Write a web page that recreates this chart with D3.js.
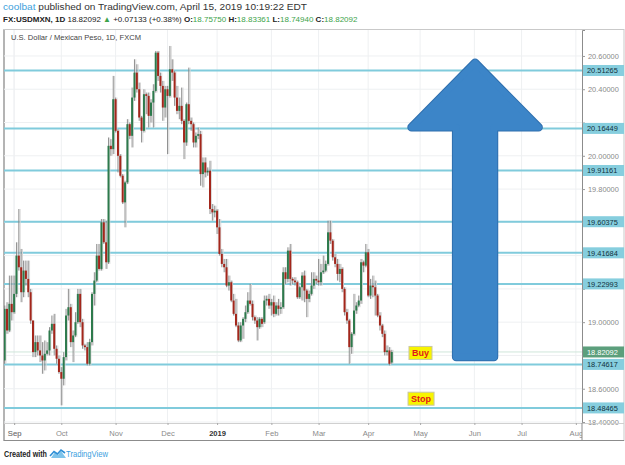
<!DOCTYPE html>
<html>
<head>
<meta charset="utf-8">
<script src="https://cdn.jsdelivr.net/npm/d3@7"></script>
<style>
body { margin: 0; background: #fff; }
svg { display: block; }
</style>
</head>
<body>
<div id="chart"></div>
<script>
// USDMXN daily candles, Aug 28 2018 .. Apr 15 2019 (one per weekday)
var opens = [18.77,19.08,18.95,19.11,19.06,19.17,19.40,19.33,19.18,19.31,19.26,19.18,19.01,18.82,18.88,18.83,18.80,18.77,18.81,18.83,
  18.95,18.99,18.84,18.78,18.70,18.66,18.79,19.04,19.09,18.88,18.92,19.00,19.17,19.00,18.86,18.85,18.75,18.88,19.17,19.25,
  19.40,19.32,19.60,19.48,19.36,20.06,20.04,20.34,20.15,20.00,19.88,19.72,19.84,20.19,20.12,20.35,20.50,20.40,20.23,20.15,
  20.37,20.36,20.24,20.32,20.39,20.62,20.48,20.42,20.29,20.40,20.36,20.52,20.50,20.35,20.27,20.30,20.21,20.08,20.31,20.21,
  20.19,20.08,20.12,20.13,19.89,19.96,19.90,19.91,19.68,19.66,19.67,19.57,19.41,19.35,19.33,19.22,19.24,19.13,19.05,18.98,
  18.89,18.98,19.02,19.06,19.13,19.11,19.03,19.01,18.97,19.02,19.00,19.13,19.14,19.10,19.12,19.05,19.10,19.08,19.09,19.30,
  19.26,19.43,19.26,19.25,19.24,19.15,19.21,19.28,19.19,19.14,19.17,19.22,19.26,19.25,19.24,19.30,19.31,19.35,19.54,19.49,
  19.39,19.35,19.29,19.32,19.20,19.06,19.01,18.85,18.93,19.07,19.10,19.13,19.36,19.34,19.42,19.16,19.22,19.21,19.16,19.04,
  18.98,18.93,18.82,18.83,18.7575];
var highs = [19.10,19.12,19.28,19.28,19.28,19.48,19.68,19.44,19.37,19.37,19.37,19.20,19.01,18.92,18.92,18.92,18.88,18.89,18.88,18.97,
  19.04,19.05,18.86,18.80,18.73,18.82,19.08,19.20,19.11,18.95,19.06,19.20,19.20,19.02,18.87,18.88,18.90,19.18,19.30,19.47,
  19.47,19.62,19.62,19.61,20.11,20.10,20.48,20.35,20.16,20.01,19.89,19.85,20.22,20.20,20.41,20.58,20.55,20.44,20.24,20.40,
  20.38,20.38,20.34,20.43,20.63,20.63,20.50,20.45,20.42,20.42,20.66,20.58,20.51,20.42,20.35,20.41,20.22,20.32,20.53,20.23,
  20.20,20.14,20.17,20.15,19.99,19.99,19.93,19.97,19.71,19.70,19.68,19.62,19.44,19.38,19.38,19.28,19.25,19.17,19.14,19.00,
  19.00,19.03,19.10,19.18,19.23,19.13,19.04,19.03,19.03,19.03,19.16,19.16,19.17,19.14,19.16,19.12,19.14,19.12,19.33,19.33,
  19.45,19.47,19.27,19.27,19.25,19.22,19.30,19.31,19.20,19.19,19.30,19.30,19.28,19.38,19.35,19.40,19.37,19.61,19.61,19.50,
  19.41,19.38,19.35,19.33,19.21,19.08,19.02,18.94,19.17,19.12,19.16,19.38,19.37,19.47,19.44,19.26,19.28,19.25,19.17,19.06,
  18.99,18.95,18.86,18.85,18.83361];
var lows = [18.75,18.93,18.94,19.01,19.05,19.15,19.31,19.12,19.15,19.22,19.15,18.99,18.79,18.79,18.80,18.76,18.69,18.71,18.80,18.80,
  18.93,18.80,18.75,18.69,18.50,18.62,18.77,19.01,18.85,18.76,18.91,18.99,18.97,18.84,18.83,18.74,18.74,18.86,19.10,19.24,
  19.31,19.31,19.47,19.32,19.35,20.00,20.01,20.14,19.90,19.87,19.71,19.57,19.83,20.10,20.05,20.33,20.38,20.21,20.08,20.14,
  20.25,20.17,20.20,20.17,20.38,20.45,20.38,20.21,20.23,20.01,20.35,20.45,20.30,20.25,20.22,20.19,19.98,20.06,20.19,20.15,
  20.05,20.05,20.10,19.82,19.81,19.87,19.88,19.65,19.61,19.63,19.53,19.40,19.33,19.30,19.21,19.19,19.12,19.04,18.97,18.88,
  18.88,18.90,19.00,19.05,19.10,19.01,18.99,18.89,18.96,18.97,18.99,19.10,19.08,19.04,19.03,19.04,19.04,19.05,19.08,19.23,
  19.24,19.22,19.23,19.22,19.14,19.14,19.13,19.12,19.03,19.12,19.16,19.20,19.23,19.22,19.22,19.29,19.30,19.34,19.47,19.37,
  19.33,19.25,19.24,19.18,19.04,18.99,18.75,18.81,18.92,19.05,19.09,19.11,19.30,19.33,19.15,19.14,19.15,19.04,19.03,18.95,
  18.91,18.80,18.80,18.74,18.7494];
var closes = [19.08,18.95,19.11,19.06,19.17,19.40,19.33,19.18,19.31,19.26,19.18,19.01,18.82,18.88,18.83,18.80,18.77,18.81,18.83,18.95,
  18.99,18.84,18.78,18.70,18.66,18.79,19.04,19.09,18.88,18.92,19.00,19.17,19.00,18.86,18.85,18.75,18.88,19.17,19.25,19.40,
  19.32,19.60,19.48,19.36,20.06,20.04,20.34,20.15,20.00,19.88,19.72,19.84,20.19,20.12,20.35,20.50,20.40,20.23,20.15,20.37,
  20.36,20.24,20.32,20.39,20.62,20.48,20.42,20.29,20.40,20.36,20.52,20.50,20.35,20.27,20.30,20.21,20.08,20.31,20.21,20.19,
  20.08,20.12,20.13,19.89,19.96,19.90,19.91,19.68,19.66,19.67,19.57,19.41,19.35,19.33,19.22,19.24,19.13,19.05,18.98,18.89,
  18.98,19.02,19.06,19.13,19.11,19.03,19.01,18.97,19.02,18.99,19.13,19.14,19.10,19.12,19.05,19.10,19.08,19.09,19.30,19.26,
  19.43,19.26,19.25,19.24,19.15,19.21,19.28,19.19,19.14,19.17,19.22,19.26,19.25,19.24,19.30,19.31,19.35,19.54,19.49,19.39,
  19.35,19.29,19.32,19.20,19.06,19.01,18.85,18.93,19.07,19.10,19.13,19.36,19.34,19.42,19.16,19.22,19.21,19.16,19.04,18.98,
  18.93,18.82,18.83,18.75,18.82092];

// horizontal support / resistance levels
var levels = [20.51265, 20.16449, 19.91161, 19.60375, 19.41684, 19.22993, 18.74617, 18.48465];
var lastPrice = 18.82092;
var priceTicks = [18.4, 18.6, 18.8, 19.0, 19.2, 19.4, 19.6, 19.8, 20.0, 20.2, 20.4, 20.6];

// annotations (bar number, price)
var arrow = {center: 199.3, tipPrice: 20.58, headPrice: 20.15, headHalf: 28.4, shaftHalf: 9.5, basePrice: 18.77};
var notes = [{text: "Buy", bar: 171.3, price: 18.815}, {text: "Stop", bar: 170.9, price: 18.54}];

var svgWidth = 625;
var svgHeight = 465;
var plot = {left: 4, right: 582, top: 30, bottom: 423};
var font = "'Liberation Sans', Arial, sans-serif";

var svg = d3.select("#chart")
    .append("svg")
    .attr("width", svgWidth)
    .attr("height", svgHeight)
    .style("font-family", font);

// weekday calendar starting at the first bar
var days = [];
for (var d = new Date(2018, 7, 28); days.length < 250; d.setDate(d.getDate() + 1)) {
    if (d.getDay() !== 0 && d.getDay() !== 6) days.push(new Date(d));
}
var monthStarts = [];
days.forEach(function(day, i) {
    if (i > 0 && day.getMonth() !== days[i - 1].getMonth()) monthStarts.push(i);
});
monthStarts.unshift(4); // Sep 3

var x = d3.scaleLinear().domain([-0.28, 244.6]).range([plot.left, plot.right]);
var y = d3.scaleLinear().domain([18.394, 20.756]).range([plot.bottom, plot.top]);

var defs = svg.append("defs");
defs.append("clipPath").attr("id", "plotClip")
    .append("rect")
    .attr("x", plot.left).attr("y", plot.top)
    .attr("width", plot.right - plot.left).attr("height", plot.bottom - plot.top);
defs.append("clipPath").attr("id", "axisClip")
    .append("rect").attr("x", 0).attr("y", 0).attr("width", plot.right).attr("height", 20);

// header
var h1 = svg.append("text").attr("x", 3).attr("y", 9.5).attr("font-size", 9.2).attr("fill", "#333")
    .attr("textLength", 304).attr("lengthAdjust", "spacingAndGlyphs");
h1.append("tspan").attr("fill", "#3d9fdc").text("coolbat");
h1.append("tspan").text(" published on TradingView.com, April 15, 2019 10:19:22 EDT");

var green = "#3da34a";
var h2 = svg.append("text").attr("x", 3).attr("y", 21.5).attr("font-size", 8).attr("fill", "#222");
h2.append("tspan").attr("font-weight", "bold").text("FX:USDMXN, 1D");
h2.append("tspan").text("  18.82092 ");
h2.append("tspan").attr("fill", green).text("\u25B2");
h2.append("tspan").text(" +0.07133 (+0.38%) ");
[["O:", "18.75750"], [" H:", "18.83361"], [" L:", "18.74940"], [" C:", "18.82092"]].forEach(function(p) {
    h2.append("tspan").attr("font-weight", "bold").text(p[0]);
    h2.append("tspan").attr("fill", green).text(p[1]);
});

// frame
svg.append("rect")
    .attr("x", 3.5).attr("y", 29.5)
    .attr("width", 620.5).attr("height", 411)
    .attr("fill", "none").attr("stroke", "#c9c9c9");
svg.append("line")
    .attr("x1", 4).attr("x2", 4).attr("y1", 30).attr("y2", 441)
    .attr("stroke", "#b4b4b4").attr("stroke-width", 2);

var chartGroup = svg.append("g").attr("clip-path", "url(#plotClip)");

// grid
chartGroup.selectAll(".vgrid").data(monthStarts).enter().append("line")
    .attr("x1", d => x(d)).attr("x2", d => x(d))
    .attr("y1", plot.top).attr("y2", plot.bottom)
    .attr("stroke", "#eef0f2");
chartGroup.selectAll(".hgrid").data(priceTicks).enter().append("line")
    .attr("x1", plot.left).attr("x2", plot.right)
    .attr("y1", d => y(d)).attr("y2", d => y(d))
    .attr("stroke", "#eef0f2");

svg.append("text")
    .attr("x", 11).attr("y", 39.5)
    .attr("font-size", 7.8).attr("fill", "#444")
    .attr("textLength", 130).attr("lengthAdjust", "spacingAndGlyphs")
    .text("U.S. Dollar / Mexican Peso, 1D, FXCM");

// last price line
chartGroup.append("line")
    .attr("x1", plot.left).attr("x2", plot.right)
    .attr("y1", y(lastPrice)).attr("y2", y(lastPrice))
    .attr("stroke", "#cfe6da");

// levels
chartGroup.selectAll(".level").data(levels).enter().append("line")
    .attr("x1", plot.left).attr("x2", plot.right)
    .attr("y1", d => y(d)).attr("y2", d => y(d))
    .attr("stroke", "#80cbdc").attr("stroke-width", 2);

// candles
var candles = closes.map(function(c, i) {
    return {i: i, o: opens[i], h: highs[i], l: lows[i], c: c};
});
var candleG = chartGroup.selectAll(".candle").data(candles).enter().append("g");
candleG.append("line")
    .attr("x1", d => x(d.i) + 1.3).attr("x2", d => x(d.i) + 1.3)
    .attr("y1", d => y(d.h)).attr("y2", d => y(d.l))
    .attr("stroke", "#d6d6d6").attr("stroke-width", 1);
candleG.append("line")
    .attr("x1", d => x(d.i)).attr("x2", d => x(d.i))
    .attr("y1", d => y(d.h)).attr("y2", d => y(d.l))
    .attr("stroke", "#858585").attr("stroke-width", 0.9);
candleG.append("rect")
    .attr("x", d => x(d.i) - 1)
    .attr("width", 2)
    .attr("y", d => y(Math.max(d.o, d.c)))
    .attr("height", d => Math.max(1, Math.abs(y(d.o) - y(d.c))))
    .attr("fill", d => d.c >= d.o ? "#2d7a4c" : "#a3261b");

// arrow annotation
var r = 3.5;
var aPts = [
    [x(arrow.center), y(arrow.tipPrice) + r],
    [x(arrow.center + arrow.headHalf) - r, y(arrow.headPrice) - r],
    [x(arrow.center + arrow.shaftHalf) - r, y(arrow.headPrice) - r],
    [x(arrow.center + arrow.shaftHalf) - r, y(arrow.basePrice) - r],
    [x(arrow.center - arrow.shaftHalf) + r, y(arrow.basePrice) - r],
    [x(arrow.center - arrow.shaftHalf) + r, y(arrow.headPrice) - r],
    [x(arrow.center - arrow.headHalf) + r, y(arrow.headPrice) - r]
];
var aPath = "M" + aPts.map(p => p.join(",")).join("L") + "Z";
chartGroup.append("path").attr("d", aPath)
    .attr("fill", "#2f6fae").attr("stroke", "#2f6fae")
    .attr("stroke-width", 2 * r + 1.5).attr("stroke-linejoin", "round");
chartGroup.append("path").attr("d", aPath)
    .attr("fill", "#3c85c8").attr("stroke", "#3c85c8")
    .attr("stroke-width", 2 * r - 0.5).attr("stroke-linejoin", "round");

// Buy / Stop notes
notes.forEach(function(n) {
    var g = chartGroup.append("g");
    var t = g.append("text")
        .attr("x", x(n.bar) + 3).attr("y", y(n.price) + 3.2)
        .attr("font-size", 9).attr("font-weight", "bold").attr("fill", "#e0141a")
        .text(n.text);
    var w = t.node().getComputedTextLength();
    g.insert("rect", "text")
        .attr("x", x(n.bar)).attr("y", y(n.price) - 6.5)
        .attr("width", w + 6).attr("height", 13)
        .attr("fill", "#f8f400").attr("stroke", "#c9c7a0");
});

// right price axis; labels hidden under the level tags are dropped
var tagged = levels.concat([lastPrice]);
var yAxis = svg.append("g")
    .attr("transform", `translate(${plot.right},0)`)
    .call(d3.axisRight(y).tickValues(priceTicks).tickFormat(d3.format(".5f")).tickSize(3).tickPadding(3));
yAxis.select(".domain").attr("stroke", "#8c8c8c");
yAxis.selectAll(".tick line").attr("stroke", "#9a9a9a");
yAxis.selectAll(".tick text").attr("fill", "#8a8a8a").attr("font-size", 7.4)
    .attr("font-family", font)
    .filter(v => tagged.some(t => Math.abs(y(t) - y(v)) < 10)).remove();

// level tags on the axis
var tags = svg.selectAll(".tag").data(levels).enter().append("g");
tags.append("rect")
    .attr("x", plot.right + 1).attr("y", d => y(d) - 5.5)
    .attr("width", 41).attr("height", 11)
    .attr("fill", "#86cede");
tags.append("text")
    .attr("x", plot.right + 5).attr("y", d => y(d) + 2.8)
    .attr("font-size", 7.4).attr("fill", "#10303c")
    .text(d => d3.format(".5f")(d));

svg.append("rect")
    .attr("x", plot.right + 1).attr("y", y(lastPrice) - 5.5)
    .attr("width", 41).attr("height", 11)
    .attr("fill", "#5c9f7c");
svg.append("text")
    .attr("x", plot.right + 5).attr("y", y(lastPrice) + 2.8)
    .attr("font-size", 7.4).attr("fill", "#fff")
    .text(d3.format(".5f")(lastPrice));

// time axis
var fmtMonth = d3.timeFormat("%b");
svg.append("line")
    .attr("x1", 4).attr("x2", 624).attr("y1", plot.bottom + 0.5).attr("y2", plot.bottom + 0.5)
    .attr("stroke", "#d0d0d0");
svg.append("line")
    .attr("x1", 4).attr("x2", 624).attr("y1", 440.5).attr("y2", 440.5)
    .attr("stroke", "#8c8c8c");
svg.append("line")
    .attr("x1", plot.right).attr("x2", plot.right).attr("y1", plot.bottom).attr("y2", 441)
    .attr("stroke", "#8c8c8c");

var xAxis = svg.append("g")
    .attr("transform", `translate(0,${plot.bottom})`)
    .attr("clip-path", "url(#axisClip)")
    .call(d3.axisBottom(x).tickValues(monthStarts).tickSize(2).tickPadding(6)
        .tickFormat(i => days[i].getMonth() === 0 ? String(days[i].getFullYear()) : fmtMonth(days[i])));
xAxis.select(".domain").remove();
xAxis.selectAll(".tick line").attr("stroke", "#aaa");
xAxis.selectAll(".tick text").attr("fill", "#8a8a8a").attr("font-size", 7.6)
    .attr("font-family", font)
    .filter(i => days[i].getMonth() === 0).attr("fill", "#333").attr("font-weight", "bold");

// footer
var foot = svg.append("g");
foot.append("text").attr("x", 4).attr("y", 456.5).attr("font-size", 8.2).attr("fill", "#222")
    .attr("font-weight", "bold").attr("textLength", 43).attr("lengthAdjust", "spacingAndGlyphs")
    .text("Created with");
foot.append("path")
    .attr("d", "M51,458 L55,452 L58,455 L61,451 L66,458 Z")
    .attr("fill", "#7ec3ea");
foot.append("path")
    .attr("d", "M50,456 L54,451.5 L57.5,454 L61,450 L65,453")
    .attr("fill", "none").attr("stroke", "#2e8fd6").attr("stroke-width", 1.6);
foot.append("text").attr("x", 66).attr("y", 456.5).attr("font-size", 8.4).attr("fill", "#3aa0de")
    .attr("textLength", 42).attr("lengthAdjust", "spacingAndGlyphs")
    .text("TradingView");
</script>
</body>
</html>
